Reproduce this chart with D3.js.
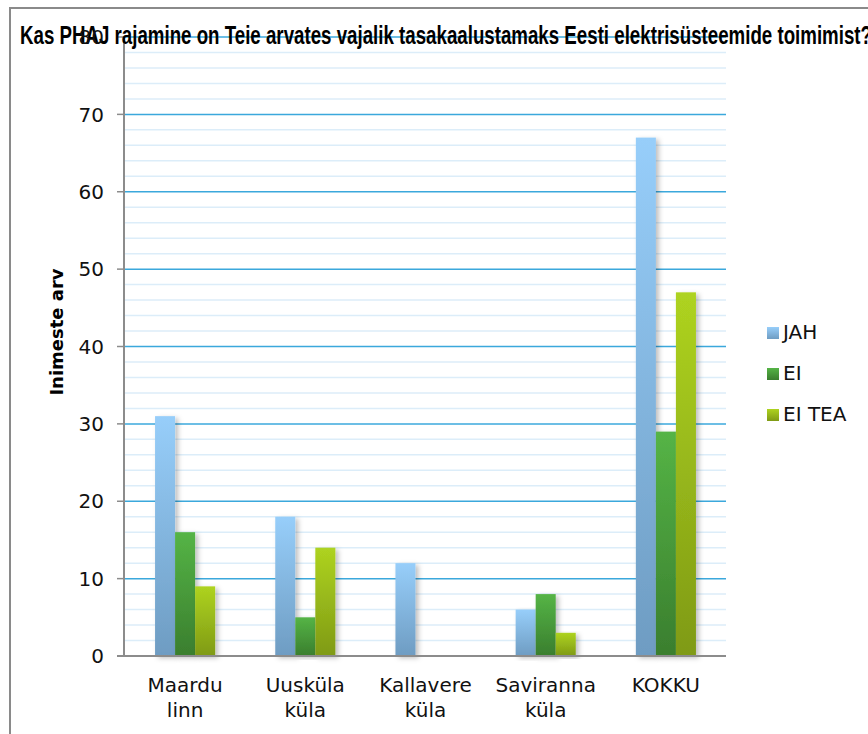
<!DOCTYPE html>
<html lang="et">
<head>
    <meta charset="UTF-8">
    <title>PHAJ küsitlus</title>
    <script src="https://d3js.org/d3.v7.min.js"></script>
    <style>
        body { margin: 0; background: #fff; }
        svg { display: block; }
        .tick-label { font-family: "DejaVu Sans", Verdana, sans-serif; font-size: 20px; fill: #111; }
    </style>
</head>
<body>
<svg id="chart" width="868" height="734"></svg>
<script>
    // Data
    const categories = [["Maardu", "linn"], ["Uusküla", "küla"], ["Kallavere", "küla"], ["Saviranna", "küla"], ["KOKKU"]];
    const seriesNames = ["JAH", "EI", "EI TEA"];
    const jah = [31, 18, 12, 6, 67];
    const ei = [16, 5, 0, 8, 29];
    const eiTea = [9, 14, 0, 3, 47];
    const yTicks = [0, 10, 20, 30, 40, 50, 60, 70, 80];
    const title = "Kas PHAJ rajamine on Teie arvates vajalik tasakaalustamaks Eesti elektrisüsteemide toimimist?";
    const yTitle = "Inimeste arv";

    const series = [jah, ei, eiTea];
    const gradColors = [["#97cefa", "#6e9cc2"], ["#55b446", "#3a7e2e"], ["#aed320", "#7f9a15"]];

    const svg = d3.select("#chart");
    const plot = { left: 125, right: 726, top: 37, bottom: 656 };

    // outer frame
    svg.append("rect")
        .attr("x", 10).attr("y", 8)
        .attr("width", 900).attr("height", 800)
        .attr("fill", "none").attr("stroke", "#8a8a8a").attr("stroke-width", 2);

    const defs = svg.append("defs");
    gradColors.forEach((c, i) => {
        const g = defs.append("linearGradient")
            .attr("id", "grad" + i)
            .attr("x1", 0).attr("y1", 0).attr("x2", 0).attr("y2", 1);
        g.append("stop").attr("offset", "0%").attr("stop-color", c[0]);
        g.append("stop").attr("offset", "100%").attr("stop-color", c[1]);
    });
    defs.append("filter").attr("id", "shadow")
        .attr("x", "-20%").attr("y", "-5%").attr("width", "160%").attr("height", "115%")
        .append("feDropShadow")
        .attr("dx", 3).attr("dy", 2).attr("stdDeviation", 2.5)
        .attr("flood-color", "#000").attr("flood-opacity", 0.25);

    const y = d3.scaleLinear().domain([0, 80]).range([plot.bottom, plot.top]);
    const x = d3.scaleBand()
        .domain(d3.range(categories.length))
        .range([plot.left, plot.right])
        .paddingInner(0.5).paddingOuter(0.25);
    const xs = d3.scaleBand().domain(d3.range(series.length)).range([0, x.bandwidth()]);

    // minor grid lines (every 2)
    svg.append("g").selectAll("line")
        .data(d3.range(2, 80, 2).filter(v => v % 10 !== 0))
        .join("line")
        .attr("x1", plot.left).attr("x2", plot.right)
        .attr("y1", d => y(d)).attr("y2", d => y(d))
        .attr("stroke", "#dcedf9").attr("stroke-width", 1.5);

    // major grid lines
    svg.append("g").selectAll("line")
        .data(yTicks.filter(v => v > 0))
        .join("line")
        .attr("x1", plot.left).attr("x2", plot.right)
        .attr("y1", d => y(d)).attr("y2", d => y(d))
        .attr("stroke", "#3ba8dc").attr("stroke-width", 1.5);

    // bars
    const groups = svg.append("g").selectAll("g")
        .data(categories.map((c, i) => i))
        .join("g")
        .attr("transform", i => `translate(${x(i)},0)`);

    groups.selectAll("rect")
        .data(i => series.map((s, k) => ({ k, v: s[i] })).filter(d => d.v > 0))
        .join("rect")
        .attr("x", d => xs(d.k))
        .attr("width", xs.bandwidth())
        .attr("y", d => y(d.v))
        .attr("height", d => y(0) - y(d.v))
        .attr("fill", d => `url(#grad${d.k})`)
        .attr("filter", "url(#shadow)");

    // axes
    svg.append("line")
        .attr("x1", plot.left - 1).attr("x2", plot.left - 1)
        .attr("y1", plot.top).attr("y2", plot.bottom)
        .attr("stroke", "#8c8c8c").attr("stroke-width", 2);
    svg.append("line")
        .attr("x1", plot.left - 8).attr("x2", plot.right)
        .attr("y1", plot.bottom).attr("y2", plot.bottom)
        .attr("stroke", "#8c8c8c").attr("stroke-width", 2);
    svg.append("g").selectAll("line")
        .data(yTicks.filter(v => v > 0))
        .join("line")
        .attr("x1", plot.left - 8).attr("x2", plot.left)
        .attr("y1", d => y(d)).attr("y2", d => y(d))
        .attr("stroke", "#8c8c8c").attr("stroke-width", 1.5);

    // title (condensed bold, runs past the right edge like the original)
    svg.append("text")
        .attr("x", 20).attr("y", 44)
        .attr("textLength", 852).attr("lengthAdjust", "spacingAndGlyphs")
        .style("font-family", "'Liberation Sans Narrow', 'Arial Narrow', 'Liberation Sans', sans-serif")
        .style("font-weight", "bold").style("font-size", "26px")
        .text(title);

    // y tick labels
    svg.append("g").selectAll("text")
        .data(yTicks)
        .join("text")
        .attr("class", "tick-label")
        .attr("x", 104).attr("y", d => y(d))
        .attr("dy", "0.36em")
        .attr("text-anchor", "end")
        .text(d => d);

    // y axis title
    svg.append("text")
        .attr("transform", "translate(63,332) rotate(-90)")
        .attr("text-anchor", "middle")
        .style("font-family", "'DejaVu Sans', Verdana, sans-serif")
        .style("font-weight", "bold").style("font-size", "18px")
        .text(yTitle);

    // x labels
    svg.append("g").selectAll("text")
        .data(categories.map((c, i) => i))
        .join("text")
        .attr("class", "tick-label")
        .attr("text-anchor", "middle")
        .attr("x", i => x(i) + x.bandwidth() / 2)
        .attr("y", 692)
        .selectAll("tspan")
        .data(i => categories[i])
        .join("tspan")
        .attr("x", function () { return d3.select(this.parentNode).attr("x"); })
        .attr("dy", (d, j) => j === 0 ? 0 : 25)
        .text(d => d);

    // legend
    const legend = svg.append("g").selectAll("g")
        .data(seriesNames)
        .join("g")
        .attr("transform", (d, i) => `translate(767,${327 + i * 41})`);
    legend.append("rect")
        .attr("width", 12).attr("height", 12)
        .attr("fill", (d, i) => `url(#grad${i})`);
    legend.append("text")
        .attr("class", "tick-label")
        .attr("x", 16).attr("y", 12)
        .text(d => d);
</script>
</body>
</html>
